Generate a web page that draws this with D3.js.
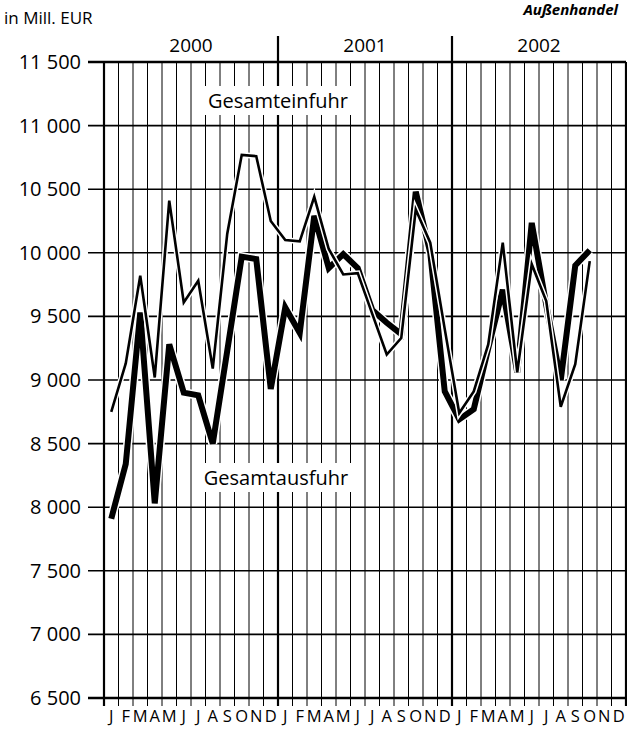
<!DOCTYPE html>
<html>
<head>
<meta charset="utf-8">
<script src="https://cdn.jsdelivr.net/npm/d3@7"></script>
<style>
  body { margin: 0; background: #fff; }
  svg { display: block; font-family: "Open Sans", "Noto Sans", sans-serif; }
</style>
</head>
<body>
<svg id="chart" width="627" height="731"></svg>
<script>
// monthly values Jan 2000 - Oct 2002, Mill. EUR
const years = ['2000', '2001', '2002'];
const monthLabels = ['J', 'F', 'M', 'A', 'M', 'J', 'J', 'A', 'S', 'O', 'N', 'D'];
const yTicks = [6500, 7000, 7500, 8000, 8500, 9000, 9500, 10000, 10500, 11000, 11500];
const einfuhr = [
  8750, 9130, 9820, 9020, 10410, 9610, 9780, 9090, 10150, 10770, 10760, 10250,
  10100, 10090, 10440, 10030, 9830, 9840, 9520, 9200, 9330, 10340, 10080, 9400,
  8740, 8910, 9280, 10080, 9060, 9910, 9620, 8790, 9125, 9935
];
const ausfuhr = [
  7910, 8340, 9530, 8030, 9280, 8900, 8880, 8500, 9230, 9970, 9950, 8930,
  9570, 9370, 10290, 9880, 9990, 9880, 9550, 9450, 9360, 10480, 10000, 8910,
  8690, 8770, 9250, 9710, 9060, 10235, 9590, 9000, 9900, 10020
];

const svg = d3.select('#chart');
const nMonths = years.length * 12;
const plotTop = 62, plotBottom = 698, plotLeft = 104, plotRight = 626;

const x = d3.scaleLinear().domain([0, nMonths]).range([plotLeft, plotRight]);
const y = d3.scaleLinear().domain([6500, 11500]).range([plotBottom, plotTop]);
const fmt = d3.formatLocale({decimal: ',', thousands: ' ', grouping: [3], currency: ['', '']}).format(',');

// title at the top right
svg.append('text')
    .attr('x', 618).attr('y', 15)
    .attr('text-anchor', 'end')
    .attr('font-size', 15).attr('font-weight', 'bold').attr('font-style', 'italic')
    .text('Außenhandel');

svg.append('text')
    .attr('x', 4).attr('y', 24)
    .attr('font-size', 17)
    .text('in Mill. EUR');

// vertical month lines
const grid = svg.append('g');
grid.selectAll('.vline')
    .data(d3.range(nMonths + 1))
    .enter().append('line')
    .attr('x1', d => x(d)).attr('x2', d => x(d))
    .attr('y1', d => (d % 12 == 0 && d > 0 && d < nMonths) ? 36 : plotTop)
    .attr('y2', plotBottom + 8)
    .attr('stroke', '#000')
    .attr('stroke-width', d => (d % 12 == 0) ? 2.2 : 1);

// horizontal lines + y ticks
grid.selectAll('.hline')
    .data(yTicks)
    .enter().append('line')
    .attr('x1', plotLeft - 16).attr('x2', plotRight)
    .attr('y1', d => y(d)).attr('y2', d => y(d))
    .attr('stroke', '#000')
    .attr('stroke-width', d => (d == 6500 || d == 11500) ? 2.4 : 1.6);

svg.append('g').selectAll('text')
    .data(yTicks)
    .enter().append('text')
    .attr('x', 81).attr('y', d => y(d) + 7)
    .attr('text-anchor', 'end')
    .attr('font-size', 20)
    .text(d => fmt(d));

svg.append('g').selectAll('text')
    .data(years)
    .enter().append('text')
    .attr('x', (d, i) => x(i * 12 + 6)).attr('y', 52)
    .attr('text-anchor', 'middle')
    .attr('font-size', 19)
    .text(d => d);

svg.append('g').selectAll('text')
    .data(d3.range(nMonths))
    .enter().append('text')
    .attr('x', d => x(d + 0.5)).attr('y', 722)
    .attr('text-anchor', 'middle')
    .attr('font-size', 16.5)
    .text(d => monthLabels[d % 12]);

// series
const line = d3.line()
    .x((d, i) => x(i + 0.5))
    .y(d => y(d));

function drawSeries(values, width) {
  svg.append('path')
      .datum(values)
      .attr('d', line)
      .attr('fill', 'none')
      .attr('stroke', '#fff')
      .attr('stroke-width', width + 3)
      .attr('stroke-linejoin', 'miter');
  svg.append('path')
      .datum(values)
      .attr('d', line)
      .attr('fill', 'none')
      .attr('stroke', '#000')
      .attr('stroke-width', width)
      .attr('stroke-linejoin', 'miter');
}
drawSeries(ausfuhr, 6);
drawSeries(einfuhr, 2.6);

// series labels on white boxes
function label(txt, cx, cy) {
  const g = svg.append('g');
  const t = g.append('text')
      .attr('x', cx).attr('y', cy + 7)
      .attr('text-anchor', 'middle')
      .attr('font-size', 20)
      .text(txt);
  const b = t.node().getBBox();
  g.insert('rect', 'text')
      .attr('x', b.x - 3).attr('y', b.y - 1)
      .attr('width', b.width + 6).attr('height', b.height + 2)
      .attr('fill', '#fff');
}
label('Gesamteinfuhr', x(12), 101);
label('Gesamtausfuhr', x(12) - 2, 478);
</script>
</body>
</html>
